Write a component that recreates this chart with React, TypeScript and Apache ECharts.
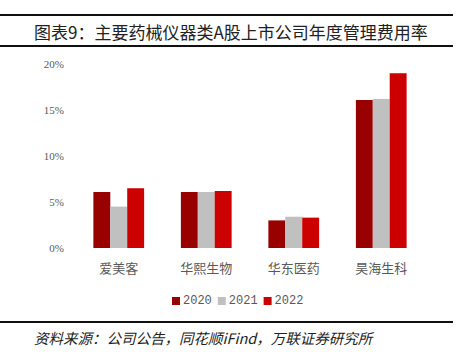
import React, { useEffect, useRef } from "react";
import * as echarts from "echarts";

const categories = ["爱美客", "华熙生物", "华东医药", "昊海生科"];
const seriesNames = ["2020", "2021", "2022"];
const v2020 = [6.1, 6.1, 3.0, 16.1];
const v2021 = [4.5, 6.1, 3.4, 16.2];
const v2022 = [6.5, 6.2, 3.3, 19.0];
const colors = ["#990000", "#C0C0C0", "#CC0000"];
const titleText = "图表9：主要药械仪器类A股上市公司年度管理费用率";
const sourceText = "资料来源：公司公告，同花顺iFind，万联证券研究所";

export default function App() {
  const ref = useRef<HTMLDivElement>(null);
  useEffect(() => {
    const chart = echarts.init(ref.current!, null, { renderer: "svg" });
    const values = [v2020, v2021, v2022];
    chart.setOption({
      animation: false,
      backgroundColor: "#fff",
      color: colors,
      textStyle: { fontFamily: "'Liberation Serif', 'Noto Sans CJK SC', serif" },
      grid: { left: 75, right: 33, top: 64, bottom: 106 },
      legend: {
        data: seriesNames,
        top: 290,
        left: 167,
        itemWidth: 8,
        itemHeight: 8,
        itemGap: 6,
        icon: "rect",
        textStyle: {
          color: "#595959",
          fontSize: 12,
          fontFamily: "'Liberation Mono', monospace",
          padding: [0, 0, 0, -2],
        },
      },
      xAxis: {
        type: "category",
        data: categories,
        axisLine: { show: false },
        axisTick: { show: false },
        axisLabel: { color: "#595959", fontSize: 13, margin: 14 },
      },
      yAxis: {
        type: "value",
        min: 0,
        max: 20,
        interval: 5,
        splitLine: { show: false },
        axisLine: { show: false },
        axisTick: { show: false },
        axisLabel: { color: "#595959", fontSize: 11, margin: 11, formatter: "{value}%" },
      },
      series: seriesNames.map((n, i) => ({
        name: n,
        type: "bar",
        data: values[i],
        barGap: "0%",
        barCategoryGap: "42%",
        itemStyle: { color: colors[i] },
      })),
      graphic: [
        { type: "rect", shape: { x: 0, y: 14, width: 453, height: 2 }, style: { fill: "#111" } },
        { type: "rect", shape: { x: 0, y: 45, width: 453, height: 2 }, style: { fill: "#111" } },
        { type: "rect", shape: { x: 0, y: 321, width: 453, height: 2 }, style: { fill: "#111" } },
        {
          type: "text",
          x: 34,
          y: 31,
          style: {
            text: titleText,
            fill: "#222",
            font: "17px 'Noto Sans CJK SC', serif",
            textVerticalAlign: "middle",
          },
        },
        {
          type: "text",
          x: 34,
          y: 337,
          style: {
            text: sourceText,
            fill: "#222",
            font: "italic 14.5px 'Noto Sans CJK SC', serif",
            textVerticalAlign: "middle",
          },
        },
      ],
    });
    return () => chart.dispose();
  }, []);
  return <div ref={ref} style={{ width: 458, height: 354, position: "absolute", left: 0, top: 0 }} />;
}
